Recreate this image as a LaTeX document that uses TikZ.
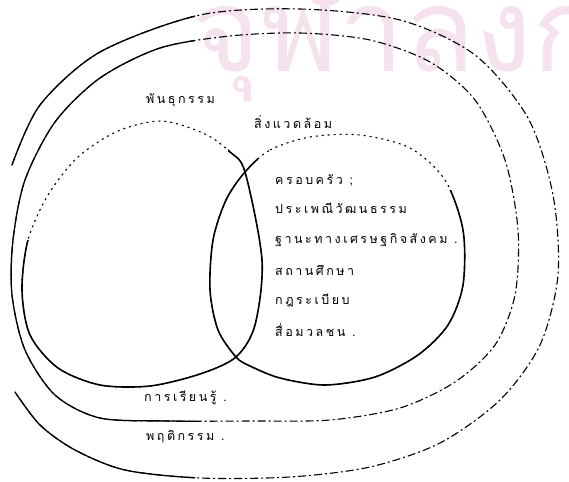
\documentclass[tikz,border=0pt]{standalone}
\usepackage{fontspec}
\usepackage{xcolor}
\newfontfamily\thaifont[Script=Thai]{Loma}
\newfontfamily\thaiwide[Script=Thai,LetterSpace=20]{Loma}
\definecolor{wmark}{RGB}{246,226,238}

\begin{document}
\begin{tikzpicture}[x=1pt,y=-1pt,
    ringsolid/.style={line width=1.6pt, line cap=round},
    ringdash/.style={line width=1.1pt, dash pattern=on 8pt off 3pt on 2pt off 3pt},
    ringdot/.style={line width=1.1pt, dash pattern=on 2pt off 4pt},
    thaitext/.style={font=\thaiwide\fontsize{12.5}{14}\selectfont, inner sep=1pt, anchor=west}]
    \useasboundingbox (0,0) rectangle (569,481);
    % Watermark
    \begin{scope}
        \clip (0,0) rectangle (569,481);
        \node[anchor=base west, text=wmark, inner sep=0pt, text depth=0pt,
              font=\thaifont\fontsize{116}{116}\selectfont] (mark) at (192,72) {จุฬาลงกรณ์};
    \end{scope}

    % Curves
    \path[save path=\behaviour] plot[smooth] coordinates {(12,165) (40,105) (100,52) (200,15) (300,9) (400,20) (475,55) (528,118) (553,195) (558,275) (540,345) (500,400) (440,443) (370,467) (290,477) (200,478) (125,470) (75,450) (40,425) (15,392)};
    \path[save path=\learning] plot[smooth cycle] coordinates {(13,240) (25,180) (55,122) (100,78) (160,48) (230,36) (300,33) (370,40) (430,62) (475,100) (505,160) (518,230) (515,295) (495,345) (455,382) (400,408) (330,420) (250,421) (170,421) (100,418) (55,395) (25,350) (12,295)};
    \path[save path=\heredity] plot[smooth cycle] coordinates {(245,172) (262,260) (255,325) (236,357) (200,374) (150,386) (100,385) (58,368) (30,335) (22,290) (28,240) (48,195) (78,157) (118,131) (162,121) (205,134) (230,152)};
    \path[save path=\surround] plot[smooth cycle] coordinates {(245,172) (270,150) (310,137) (360,135) (410,148) (445,180) (463,230) (463,285) (448,325) (418,355) (375,377) (325,385) (280,378) (250,366) (236,357) (218,330) (210,290) (213,240) (226,200)};

    % Broken parts
    \draw[ringdash, use path=\behaviour];
    \draw[ringdash, use path=\learning];
    \draw[ringdot, use path=\heredity];
    \draw[ringdot, use path=\surround];

    % Solid parts
    \begin{scope}
        \clip (0,0) rectangle (195,481);
        \draw[ringsolid, line width=1.3pt, use path=\behaviour];
        \draw[ringsolid, line width=1.3pt, use path=\learning];
    \end{scope}
    \begin{scope}
        \clip (0,240) -- (228,240) -- (228,0) -- (569,0) -- (569,481) -- (0,481) -- cycle;
        \draw[ringsolid, use path=\heredity];
    \end{scope}
    \begin{scope}
        \clip (0,0) -- (258,0) -- (258,190) -- (569,190) -- (569,481) -- (0,481) -- cycle;
        \draw[ringsolid, use path=\surround];
    \end{scope}

    % Labels
    \node[thaitext] (heredity) at (145,100) {พันธุกรรม};
    \node[thaitext] (surround) at (253,122) {สิ่งแวดล้อม};
    \node[thaitext] (family) at (274,180) {ครอบครัว ;};
    \node[thaitext] (custom) at (274,208) {ประเพณีวัฒนธรรม};
    \node[thaitext] (status) at (274,240) {ฐานะทางเศรษฐกิจสังคม .};
    \node[thaitext] (school) at (274,270) {สถานศึกษา};
    \node[thaitext] (rules) at (274,300) {กฎระเบียบ};
    \node[thaitext] (media) at (274,330) {สื่อมวลชน .};
    \node[thaitext] (learning) at (143,398) {การเรียนรู้ .};
    \node[thaitext] (behaviour) at (145,437) {พฤติกรรม .};
\end{tikzpicture}
\end{document}
